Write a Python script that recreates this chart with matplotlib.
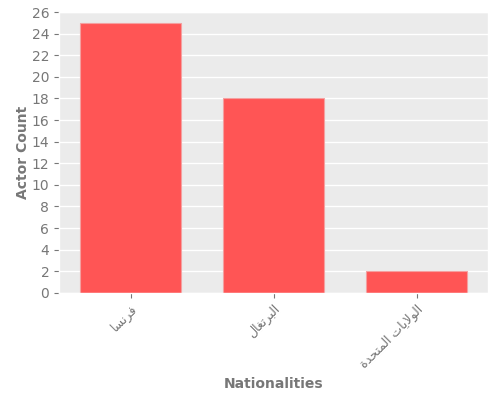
import matplotlib
matplotlib.use("Agg")
import matplotlib.pyplot as plt

plt.style.use("ggplot")

categories = ["فرنسا", "البرتغال", "الولايات المتحدة"]
counts = [25, 18, 2]

# Minimal Arabic shaping (presentation forms) + visual (RTL) ordering,
# since matplotlib does neither.
FORMS = {
    "ا": ("\uFE8D", "\uFE8E", None, None),
    "ب": ("\uFE8F", "\uFE90", "\uFE91", "\uFE92"),
    "ت": ("\uFE95", "\uFE96", "\uFE97", "\uFE98"),
    "ة": ("\uFE93", "\uFE94", None, None),
    "ح": ("\uFEA1", "\uFEA2", "\uFEA3", "\uFEA4"),
    "د": ("\uFEA9", "\uFEAA", None, None),
    "ر": ("\uFEAD", "\uFEAE", None, None),
    "س": ("\uFEB1", "\uFEB2", "\uFEB3", "\uFEB4"),
    "غ": ("\uFECD", "\uFECE", "\uFECF", "\uFED0"),
    "ف": ("\uFED1", "\uFED2", "\uFED3", "\uFED4"),
    "ل": ("\uFEDD", "\uFEDE", "\uFEDF", "\uFEE0"),
    "م": ("\uFEE1", "\uFEE2", "\uFEE3", "\uFEE4"),
    "ن": ("\uFEE5", "\uFEE6", "\uFEE7", "\uFEE8"),
    "و": ("\uFEED", "\uFEEE", None, None),
    "ي": ("\uFEF1", "\uFEF2", "\uFEF3", "\uFEF4"),
    "LA": ("\uFEFB", "\uFEFC", None, None),
}


def shape(text):
    toks = []
    i = 0
    while i < len(text):
        if text[i] == "ل" and i + 1 < len(text) and text[i + 1] == "ا":
            toks.append("LA")
            i += 2
        else:
            toks.append(text[i])
            i += 1
    out = []
    for k, t in enumerate(toks):
        if t not in FORMS:
            out.append(t)
            continue
        iso, fin, ini, med = FORMS[t]
        prev = toks[k - 1] if k > 0 else None
        nxt = toks[k + 1] if k + 1 < len(toks) else None
        jp = prev in FORMS and FORMS[prev][2] is not None
        jn = ini is not None and nxt in FORMS
        if jp and jn:
            out.append(med)
        elif jp:
            out.append(fin)
        elif jn:
            out.append(ini)
        else:
            out.append(iso)
    return "".join(reversed(out))


fig = plt.figure(figsize=(5, 4), dpi=100)
ax = fig.add_axes([0.118, 0.268, 0.858, 0.702])
ax.set_facecolor("#EBEBEB")
x = range(len(categories))
ax.bar(x, counts, width=0.7, color="#FF5555", edgecolor="#F4A0A0", linewidth=0.8)
ax.set_xlim(-0.5, 2.5)
ax.set_ylim(0, 26)
ax.set_yticks(range(0, 27, 2))
ax.set_xticks(list(x))
ax.set_xticklabels([shape(c) for c in categories], rotation=45, ha="right",
                   rotation_mode="anchor", fontsize=9)
ax.tick_params(axis="both", colors="#777777")
ax.tick_params(axis="y", labelsize=10)
for lbl in ax.get_xticklabels() + ax.get_yticklabels():
    lbl.set_color("#777777")
ax.set_xlabel("Nationalities", color="#777777", fontsize=10, fontweight="bold")
ax.set_ylabel("Actor Count", color="#777777", fontsize=10, fontweight="bold")
ax.xaxis.set_label_coords(0.5, -0.30)
ax.yaxis.set_label_coords(-0.068, 0.5)
ax.grid(axis="x", visible=False)
ax.grid(axis="y", color="white", linewidth=1.0)
fig.savefig("out.png", dpi=100)
